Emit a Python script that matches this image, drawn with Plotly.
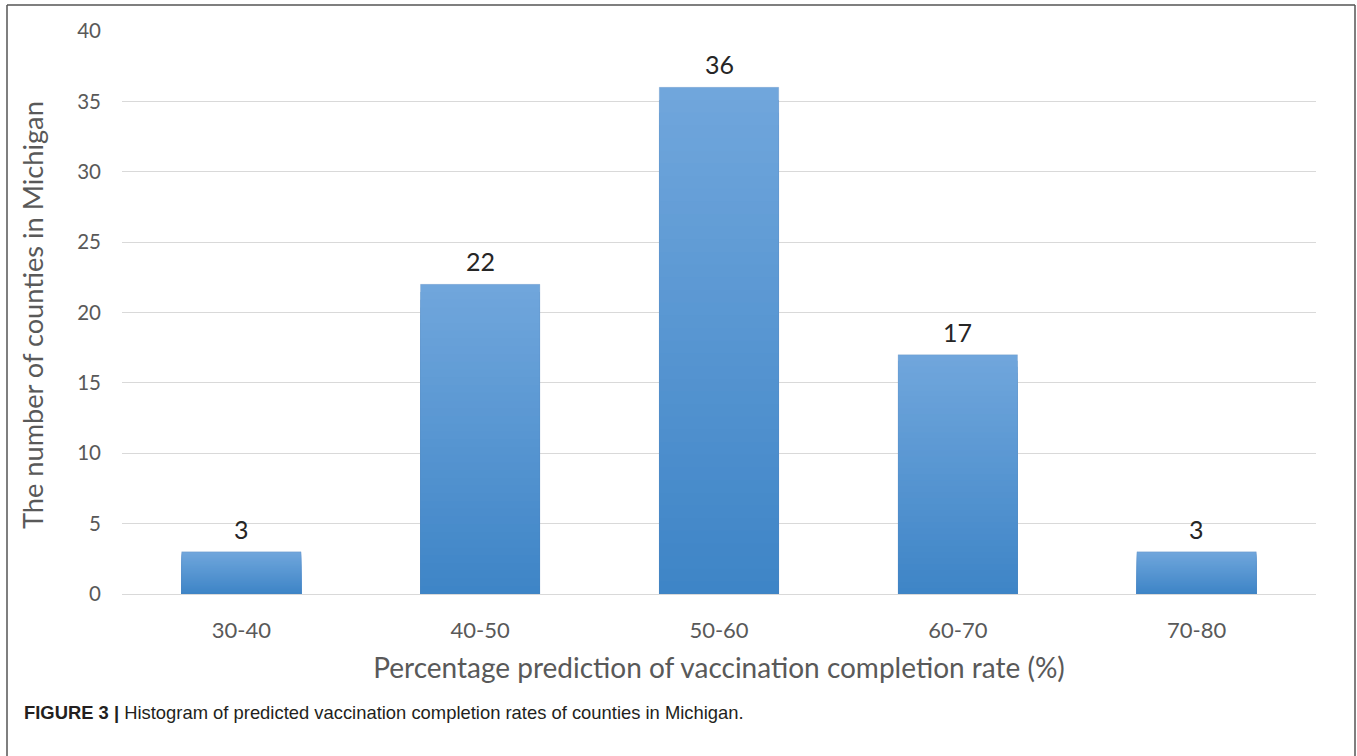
import plotly.graph_objects as go

# Histogram of predicted county-level vaccination completion rates
bins = ["30-40", "40-50", "50-60", "60-70", "70-80"]
counts = [3, 22, 36, 17, 3]
y_ticks = [0, 5, 10, 15, 20, 25, 30, 35, 40]

TOP_RGB = (0x70, 0xA6, 0xDC)
BOTTOM_RGB = (0x3D, 0x84, 0xC6)
N_STEPS = 40

FONT = "Lato, 'Open Sans', sans-serif"

# Plot-area geometry in pixels, used to place paper-anchored decorations
W, H = 1357, 756
ML, MR, MT, MB = 122, 41, 31, 162
PW, PH = W - ML - MR, H - MT - MB


def px_x(px):
    return (px - ML) / PW


def px_y(py):
    return (H - MB - py) / PH


fig = go.Figure()

# Gradient fill: full-height light bar first, then successively shorter and darker
# bars drawn on top of it, all starting at zero (no seams between layers)
for k in range(N_STEPS):
    frac = 1 - k / N_STEPS
    r, g, b = (round(BOTTOM_RGB[i] + (TOP_RGB[i] - BOTTOM_RGB[i]) * frac) for i in range(3))
    fig.add_trace(go.Bar(
        x=bins,
        y=[c * frac for c in counts],
        marker=dict(color=f"rgb({r},{g},{b})", line=dict(width=0)),
        hoverinfo="skip",
        showlegend=False,
    ))

# Thin outline over each bar
fig.add_trace(go.Bar(
    x=bins,
    y=counts,
    marker=dict(color="rgba(0,0,0,0)", line=dict(width=0.6, color="rgba(90,130,180,0.35)")),
    showlegend=False,
))

# Count written above each bar
for b_name, c in zip(bins, counts):
    fig.add_annotation(
        x=b_name, y=c, xref="x", yref="y",
        text=str(c), showarrow=False,
        yanchor="bottom", yshift=6,
        font=dict(family=FONT, size=25, color="#262626"),
    )

fig.update_layout(
    width=W,
    height=H,
    margin=dict(l=ML, r=MR, t=MT, b=MB),
    paper_bgcolor="white",
    plot_bgcolor="white",
    barmode="overlay",
    bargap=0.5,
    font=dict(family=FONT, color="#595959"),
    xaxis=dict(
        showgrid=False,
        showline=True,
        linecolor="#d9d9d9",
        linewidth=1,
        ticks="",
        ticklabelstandoff=17,
        tickfont=dict(size=22, color="#595959"),
        title=dict(
            text="Percentage prediction of vaccination completion rate (%)",
            font=dict(size=28, color="#595959"),
            standoff=15,
        ),
    ),
    yaxis=dict(
        range=[0, 40],
        tickvals=y_ticks,
        showgrid=True,
        gridcolor="#d9d9d9",
        gridwidth=1,
        zeroline=False,
        ticks="",
        ticklabelstandoff=20,
        tickfont=dict(size=20.5, color="#595959"),
    ),
)

# Y-axis title, set close to the frame
fig.add_annotation(
    xref="paper", yref="paper",
    x=px_x(32), y=px_y(315),
    xanchor="center", yanchor="middle",
    textangle=-90, showarrow=False,
    text="The number of counties in Michigan",
    font=dict(family=FONT, size=27.2, color="#595959"),
)

# Figure frame (left, top and right edges)
frame_style = dict(color="#555555", width=1.5)
x_left, x_right = px_x(7), px_x(1355)
y_top, y_bottom = px_y(5), px_y(760)
fig.add_shape(type="line", xref="paper", yref="paper",
              x0=x_left, x1=x_left, y0=y_bottom, y1=y_top, line=frame_style)
fig.add_shape(type="line", xref="paper", yref="paper",
              x0=x_left, x1=x_right, y0=y_top, y1=y_top, line=frame_style)
fig.add_shape(type="line", xref="paper", yref="paper",
              x0=x_right, x1=x_right, y0=y_bottom, y1=y_top, line=frame_style)

# Caption
fig.add_annotation(
    xref="paper", yref="paper",
    x=px_x(22), y=px_y(712),
    xanchor="left", yanchor="middle",
    showarrow=False,
    text="<b>FIGURE 3 |</b> Histogram of predicted vaccination completion rates of counties in Michigan.",
    font=dict(family="'Liberation Sans Narrow', 'Liberation Sans', Arial, sans-serif", size=18.4, color="#231f20"),
)

fig.write_html("out.html")
